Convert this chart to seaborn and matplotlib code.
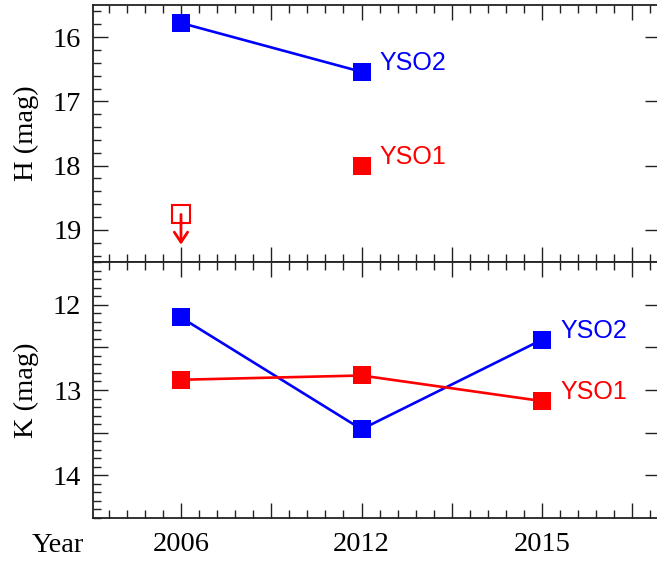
import numpy as np
import pandas as pd
import seaborn as sns
import matplotlib
matplotlib.use("Agg")
import matplotlib.pyplot as plt
from matplotlib.ticker import MultipleLocator, FixedLocator

# Epochs (plotted at evenly spaced positions)
years = ["2006", "2012", "2015"]
epoch_pos = [1, 2, 3]

# H-band photometry (mag)
h_yso2 = [15.78, 16.54]          # 2006, 2012
h_yso1 = [18.00]                 # 2012
h_yso1_limit_2006 = 18.76        # upper limit in 2006

# K-band photometry (mag)
k_yso2 = [12.15, 13.46, 12.41]   # 2006, 2012, 2015
k_yso1 = [12.88, 12.83, 13.13]   # 2006, 2012, 2015

sns.set_theme(style="ticks")
plt.rcParams["font.family"] = ["Liberation Serif", "DejaVu Serif"]
plt.rcParams.update({"text.color": "black", "axes.labelcolor": "black",
                     "xtick.color": "black", "ytick.color": "black"})

palette = {"YSO1": "#ff0000", "YSO2": "#0000ff"}

h_df = pd.DataFrame({
    "pos": epoch_pos[:2] + epoch_pos[1:2],
    "mag": h_yso2 + h_yso1,
    "source": ["YSO2", "YSO2", "YSO1"],
})
k_df = pd.DataFrame({
    "pos": epoch_pos * 2,
    "mag": k_yso2 + k_yso1,
    "source": ["YSO2"] * 3 + ["YSO1"] * 3,
})

W, H = 657, 563
fig = plt.figure(figsize=(W / 100, H / 100), dpi=100)
left = 92.5 / W
right = 659.5 / W
ax_h = fig.add_axes([left, 1 - 262 / H, right - left, (262 - 5) / H])
ax_k = fig.add_axes([left, 1 - 518 / H, right - left, (518 - 262) / H])

for ax, df in ((ax_h, h_df), (ax_k, k_df)):
    sns.lineplot(data=df, x="pos", y="mag", hue="source", palette=palette,
                 marker="s", markersize=13, markeredgewidth=0, linewidth=1.9,
                 sort=False, legend=False, ax=ax)

# H-band upper limit for YSO1 in 2006
ax_h.plot([epoch_pos[0]], [h_yso1_limit_2006], marker="s", markersize=13,
          markerfacecolor="none", markeredgecolor=palette["YSO1"],
          markeredgewidth=1.5, linestyle="none")
ax_h.annotate("", xy=(epoch_pos[0], h_yso1_limit_2006 + 0.47),
              xytext=(epoch_pos[0], h_yso1_limit_2006),
              arrowprops=dict(arrowstyle="->,head_length=0.6,head_width=0.4",
                              color=palette["YSO1"], lw=2.0,
                              shrinkA=0, shrinkB=0))

# Source labels
label_kw = dict(textcoords="offset points", xytext=(13, 6.5), ha="left",
                va="center", fontsize=18, family=["Liberation Sans", "DejaVu Sans"])
ax_h.annotate("YSO2", (epoch_pos[1], h_yso2[1]), color=palette["YSO2"], **label_kw)
ax_h.annotate("YSO1", (epoch_pos[1], h_yso1[0]), color=palette["YSO1"], **label_kw)
ax_k.annotate("YSO2", (epoch_pos[2], k_yso2[2]), color=palette["YSO2"], **label_kw)
ax_k.annotate("YSO1", (epoch_pos[2], k_yso1[2]), color=palette["YSO1"], **label_kw)

# Axes ranges (magnitudes increase downward)
for ax in (ax_h, ax_k):
    ax.set_xlim(0.51, 3.65)
    ax.xaxis.set_major_locator(MultipleLocator(0.5))
    ax.xaxis.set_minor_locator(MultipleLocator(0.1))
    for s in ax.spines.values():
        s.set_linewidth(1.3)
        s.set_color("#222222")
    ax.tick_params(which="both", direction="in", top=True, bottom=True,
                   left=True, right=False, color="#222222", width=1.0)
    ax.tick_params(which="major", length=11, labelsize=20.5, pad=8)
    ax.tick_params(which="minor", length=5.5)
    ax.set_xlabel("")

ax_h.set_ylim(19.5, 15.5)
ax_h.yaxis.set_major_locator(FixedLocator([16, 17, 18, 19]))
ax_h.yaxis.set_minor_locator(MultipleLocator(0.2))
ax_h.set_yticklabels(["16", "17", "18", "19"])
ax_h.set_ylabel("H (mag)", fontsize=20.5, labelpad=10)
ax_h.tick_params(axis="x", labelbottom=False)

ax_k.set_ylim(14.5, 11.5)
ax_k.yaxis.set_major_locator(FixedLocator([12, 12.5, 13, 13.5, 14]))
ax_k.yaxis.set_minor_locator(MultipleLocator(0.1))
ax_k.set_yticklabels(["12", "", "13", "", "14"])
ax_k.set_ylabel("K (mag)", fontsize=20.5, labelpad=10)

# Year labels on the bottom axis only at the epoch positions
ax_k.set_xticks(np.arange(1.0, 3.51, 0.5))
ax_k.set_xticklabels([years[0], "", years[1], "", years[2], ""])
ax_k.tick_params(axis="x", pad=10)

# Right-side major ticks only
for ax in (ax_h, ax_k):
    ax.tick_params(axis="y", which="major", right=True)

fig.text(58 / W, 1 - 545 / H, "Year", fontsize=20.5, ha="center", va="center")

fig.savefig("out.png", dpi=100)
